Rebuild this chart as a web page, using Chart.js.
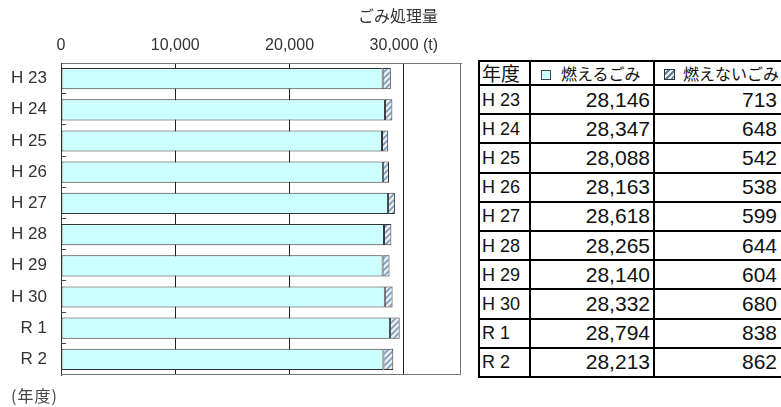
<!DOCTYPE html>
<html><head><meta charset="utf-8">
<script src="https://cdn.jsdelivr.net/npm/chart.js@4"></script>
<style>
html,body{margin:0;padding:0;background:#fff;width:781px;height:407px;overflow:hidden;position:relative;font-family:"Noto Sans CJK JP",sans-serif;color:#222;}
#wrap{position:absolute;left:0;top:0;width:470px;height:407px;}
#title{position:absolute;left:358px;top:5px;font-size:16px;line-height:20px;color:#333;white-space:nowrap;}
#unit{position:absolute;left:11px;top:385px;font-size:16px;line-height:20px;color:#444;white-space:nowrap;letter-spacing:1px;}
#tbl{position:absolute;left:478px;top:60px;border-collapse:collapse;table-layout:fixed;width:320px;color:#111;}
#tbl td{border:2px solid #000;padding:0 3px;box-sizing:border-box;overflow:hidden;white-space:nowrap;vertical-align:middle;}
#tbl tr.h td{height:24px;font-family:"Noto Sans CJK JP",sans-serif;font-size:16px;line-height:20px;padding:0 2px;}
#tbl tr.r td{height:29.2px;line-height:22px;}
#tbl td.lab{font-family:"Liberation Sans",sans-serif;font-size:18px;padding-left:2px;}
#tbl td.num{font-family:"Liberation Sans",sans-serif;font-size:21px;text-align:right;}
.ico1{display:inline-block;width:8px;height:8px;border:1px solid #445;background:#ccffff;margin:0 10px 0 8px;vertical-align:middle;position:relative;top:-1px;}
.ico2{display:inline-block;width:9px;height:9px;border:1px solid #333;margin:0 8px 0 7px;vertical-align:middle;position:relative;top:-1px;
 background:repeating-linear-gradient(135deg,#e6eef6 0 2px,#5f7fa3 2px 4px);}
</style></head>
<body>
<div id="wrap"><canvas id="c" width="470" height="407"></canvas></div>
<div id="title">ごみ処理量</div>
<div id="unit">(年度)</div>
<table id="tbl"><colgroup><col style="width:51px"><col style="width:124px"><col style="width:145px"></colgroup><tbody id="tb"></tbody></table>
<script>
const years = ['H 23','H 24','H 25','H 26','H 27','H 28','H 29','H 30','R 1','R 2'];
const burnable = [28146,28347,28088,28163,28618,28265,28140,28332,28794,28213];
const nonBurnable = [713,648,542,538,599,644,604,680,838,862];
const xTickValues = [0,10000,20000,30000];
const xTickLabels = ['0','10,000','20,000','30,000 (t)'];
const seriesNames = ['燃えるごみ','燃えないごみ'];
const headYear = '年度';

// table built from the arrays
const tb = document.getElementById('tb');
let html = '<tr class="h"><td style="font-size:19px">'+headYear+'</td><td><span class="ico1"></span>'+seriesNames[0]+'</td><td><span class="ico2"></span>'+seriesNames[1]+'</td></tr>';
const fmt = v => v.toLocaleString('en-US');
years.forEach((y,i)=>{
  html += '<tr class="r"><td class="lab">'+y+'</td><td class="num">'+fmt(burnable[i])+'</td><td class="num" style="text-align:left;padding-left:0"><span style="display:inline-block;width:122px;text-align:right">'+fmt(nonBurnable[i])+'</span></td></tr>';
});
tb.innerHTML = html;

function hatch(){
  const c=document.createElement('canvas'); c.width=6; c.height=6;
  const g=c.getContext('2d');
  g.fillStyle='#e8eff6'; g.fillRect(0,0,6,6);
  g.strokeStyle='#7f9bbb'; g.lineWidth=1.6;
  g.beginPath();
  g.moveTo(0,6); g.lineTo(6,0);
  g.moveTo(-3,3); g.lineTo(3,-3);
  g.moveTo(3,9); g.lineTo(9,3);
  g.stroke();
  return g.createPattern(c,'repeat');
}

const frame = {
  id:'frame',
  afterDraw(ch){
    const a=ch.chartArea, g=ch.ctx, ys=ch.scales.y;
    g.save(); g.strokeStyle='#777'; g.lineWidth=1;
    g.beginPath();
    g.moveTo(Math.round(a.right)-0.5, a.top); g.lineTo(Math.round(a.right)-0.5, a.bottom);
    g.moveTo(a.left, Math.round(a.bottom)-0.5); g.lineTo(a.right, Math.round(a.bottom)-0.5);
    g.stroke();
    // small inward category tick marks at boundaries
    g.strokeStyle='#444'; g.beginPath();
    for(let i=0;i<years.length-1;i++){
      const y=Math.round(ys.getPixelForValue(i+0.5))-0.5;
      g.moveTo(a.left, y); g.lineTo(a.left+5, y);
    }
    g.stroke(); g.restore();
  }
};

const sans = '"Liberation Sans",sans-serif';
new Chart(document.getElementById('c'), {
  type:'bar',
  data:{
    labels: years,
    datasets:[
      {label:seriesNames[0], data:burnable, backgroundColor:'#ccffff', borderColor:'#333', borderWidth:1, borderSkipped:false, barPercentage:0.68, categoryPercentage:1},
      {label:seriesNames[1], data:nonBurnable, backgroundColor:hatch(), borderColor:'#333', borderWidth:1, borderSkipped:false, barPercentage:0.68, categoryPercentage:1}
    ]
  },
  options:{
    indexAxis:'y',
    responsive:false,
    animation:false,
    devicePixelRatio:1,
    layout:{padding:{left:0,top:0,right:9,bottom:32}},
    plugins:{legend:{display:false}, tooltip:{enabled:false}, title:{display:false}},
    scales:{
      x:{
        position:'top', stacked:true, min:0, max:35000,
        afterBuildTicks(s){ s.ticks = xTickValues.map(v=>({value:v})); },
        afterFit(s){ s.height = 63; },
        grid:{color:'#222', lineWidth:1, drawTicks:false},
        border:{display:true, color:'#777'},
        ticks:{
          callback:(v,i)=>xTickLabels[i],
          font:{family:sans, size:16}, color:'#333', padding:8, maxRotation:0, autoSkip:false
        }
      },
      y:{
        stacked:true,
        afterFit(s){ s.width = 61; },
        grid:{display:false, drawTicks:false},
        border:{display:true, color:'#333'},
        ticks:{font:{family:sans, size:17}, color:'#333', padding:14}
      }
    }
  },
  plugins:[frame]
});
</script>
</body></html>
